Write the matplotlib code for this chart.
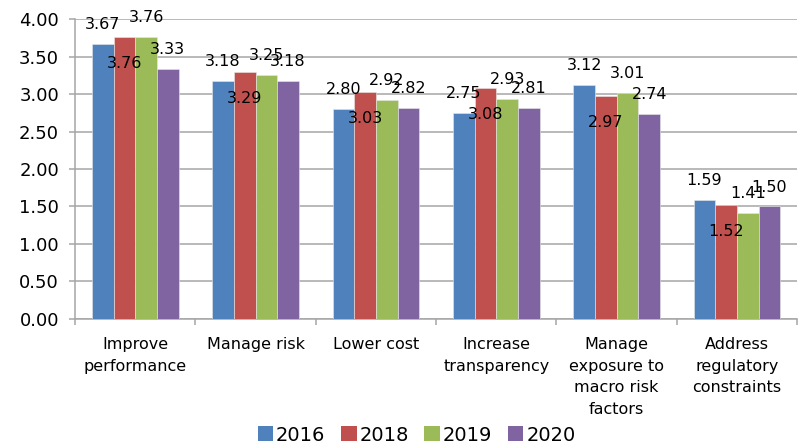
import numpy as np
import matplotlib.pyplot as plt
from matplotlib.patches import Patch

plt.rcParams['font.family'] = ['DejaVu Sans']

categories = ['Improve\nperformance', 'Manage risk', 'Lower cost', 'Increase\ntransparency',
              'Manage\nexposure to\nmacro risk\nfactors', 'Address\nregulatory\nconstraints']
years = ['2016', '2018', '2019', '2020']
v2016 = [3.67, 3.18, 2.80, 2.75, 3.12, 1.59]
v2018 = [3.76, 3.29, 3.03, 3.08, 2.97, 1.52]
v2019 = [3.76, 3.25, 2.92, 2.93, 3.01, 1.41]
v2020 = [3.33, 3.18, 2.82, 2.81, 2.74, 1.50]
series = [v2016, v2018, v2019, v2020]
colors = ['#4F81BD', '#C0504D', '#9BBB59', '#8064A2']
# label offset in points: positive above bar, negative inside
offsets = [14, -19, 14, 14]

fig = plt.figure(figsize=(7.98, 4.43), dpi=100)
ax = fig.add_axes([0.094, 0.28, 0.905, 0.677])

x = np.arange(len(categories))
w = 0.18
for i, (vals, c) in enumerate(zip(series, colors)):
    pos = x + (i - 1.5) * w
    ax.bar(pos, vals, w, color=c, edgecolor='#e8e8e8', linewidth=0.4, zorder=3)
    for p, v in zip(pos, vals):
        ax.annotate('%.2f' % v, (p, v), xytext=(0, offsets[i]), textcoords='offset points',
                    ha='center', va='center', fontsize=11.5, color='black', zorder=5)

ax.set_xlim(-0.5, len(categories) - 0.5)
ax.set_ylim(0, 4)
ax.set_yticks(np.arange(0, 4.01, 0.5))
ax.set_yticklabels(['%.2f' % t for t in np.arange(0, 4.01, 0.5)], fontsize=13)
ax.yaxis.grid(True, color='#A6A6A6', linewidth=1.1, zorder=0)
ax.set_axisbelow(True)

ax.set_xticks(x)
ax.set_xticklabels(categories, fontsize=11.5, linespacing=1.55)
ax.set_xticks(np.arange(-0.5, len(categories)), minor=True)
ax.tick_params(axis='x', which='major', length=0, pad=13)
ax.tick_params(axis='x', which='minor', length=4.5, color='#A6A6A6', width=1.1)
ax.tick_params(axis='y', length=4.5, color='#A6A6A6', width=1.1, pad=7)

for s in ['top', 'right']:
    ax.spines[s].set_visible(False)
for s in ['left', 'bottom']:
    ax.spines[s].set_color('#A6A6A6')
    ax.spines[s].set_linewidth(1.1)

handles = [Patch(facecolor=c, label=y) for c, y in zip(colors, years)]
fig.legend(handles=handles, loc='center', bbox_to_anchor=(0.522, 0.018), ncol=4,
           frameon=False, fontsize=14, handlelength=0.8, handleheight=0.8,
           handletextpad=0.15, columnspacing=0.8, borderaxespad=0)

fig.savefig('out.png', dpi=100)
